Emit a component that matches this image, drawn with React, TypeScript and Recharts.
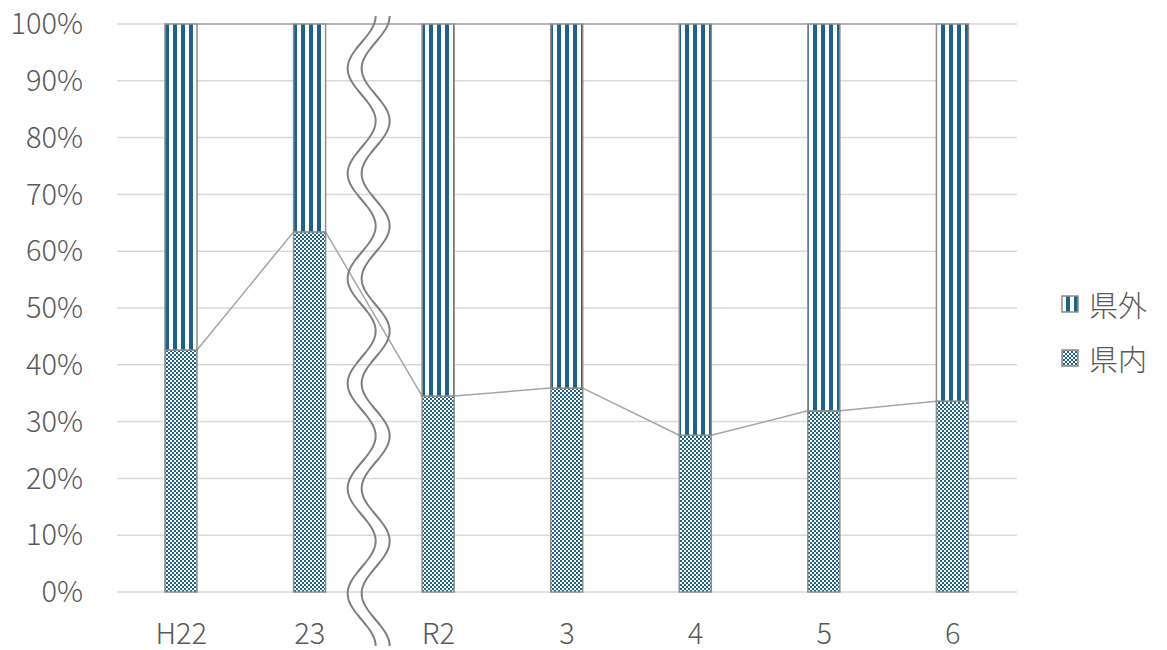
import React from 'react';
import { BarChart, Bar, XAxis, YAxis, CartesianGrid } from 'recharts';

const categories = ['H22', '23', 'R2', '3', '4', '5', '6'];
const inPref = [42.6, 63.4, 34.5, 35.9, 27.6, 31.9, 33.6];
const outPref = [57.4, 36.6, 65.5, 64.1, 72.4, 68.1, 66.4];
const yTicks = [0, 10, 20, 30, 40, 50, 60, 70, 80, 90, 100];
const seriesNames = { inner: '県内', outer: '県外' };

const data = categories.map((name, i) => ({ name, inner: inPref[i], outer: outPref[i] }));

const W = 1167;
const H = 650;
const X_H = 58;
const M = { top: 24, right: 150, bottom: 58 - X_H, left: 0 };
const Y_W = 117;
const PLOT_W = W - M.right - M.left - Y_W;
const STEP = PLOT_W / categories.length;

const BLUE = '#1d6388';
const TEXT = '#595959';
const FONT = '"Noto Sans CJK JP", "Noto Sans", sans-serif';

// bar + excel-style series line to the next bar
const makeShape = (key: 'inner' | 'outer', fill: string) => (props: any) => {
  const { x, y, width, height, index, payload } = props;
  const pxPer = height / payload[key];
  const base = y + height + (key === 'outer' ? payload.inner * pxPer : 0);
  const cum = (d: any) => (key === 'outer' ? d.inner + d.outer : d.inner);
  const next = data[index + 1];
  return (
    <g>
      {next && (
        <line
          x1={x + width}
          y1={y}
          x2={x + STEP}
          y2={base - cum(next) * pxPer}
          stroke="#a5a5a5"
          strokeWidth={1.5}
        />
      )}
      <rect x={x} y={y} width={width} height={height} fill={fill} stroke="#8c8c8c" strokeWidth={1.5} />
    </g>
  );
};

function wavePath(cx: number, y0: number, y1: number) {
  const period = (y1 - y0) / 6;
  const amp = 14;
  let d = '';
  for (let y = y0; y <= y1; y += 2) {
    const xx = cx + amp * Math.cos(((y - y0) / period) * Math.PI * 2);
    d += (d ? 'L' : 'M') + xx.toFixed(2) + ',' + y.toFixed(2);
  }
  return d;
}

function Swatch({ fill }: { fill: string }) {
  return (
    <svg width={18} height={18} style={{ display: 'block' }}>
      <rect x={1} y={1} width={16} height={16} fill={fill} stroke="#8c8c8c" strokeWidth={1.5} />
    </svg>
  );
}

export default function App() {
  const breakX = M.left + Y_W + 2 * STEP;
  const tick = { fill: TEXT, fontSize: 29, fontFamily: FONT, fontWeight: 300 };
  return (
    <div style={{ position: 'absolute', left: 0, top: 0, width: W, height: H, background: '#fff', fontFamily: FONT }}>
      <svg width={0} height={0} style={{ position: 'absolute' }}>
        <defs>
          <pattern id="stripes" x={3} width={8} height={8} patternUnits="userSpaceOnUse">
            <rect x={0} y={0} width={8} height={8} fill="#fff" />
            <rect x={2} y={0} width={4} height={8} fill={BLUE} />
          </pattern>
          <pattern id="checker" width={4} height={4} patternUnits="userSpaceOnUse">
            <rect x={0} y={0} width={4} height={4} fill="#fff" />
            <rect x={0} y={0} width={2} height={2} fill={BLUE} />
            <rect x={2} y={2} width={2} height={2} fill={BLUE} />
          </pattern>
        </defs>
      </svg>
      <BarChart width={W} height={H} data={data} margin={M} barSize={32}>
        <CartesianGrid vertical={false} stroke="#d9d9d9" strokeWidth={1.5} />
        <XAxis
          dataKey="name"
          height={X_H}
          axisLine={false}
          tickLine={false}
          tickSize={0}
          tickMargin={31}
          tick={tick}
        />
        <YAxis
          width={Y_W}
          domain={[0, 100]}
          ticks={yTicks}
          tickFormatter={(v: number) => `${v}%`}
          axisLine={false}
          tickLine={false}
          tickSize={0}
          tickMargin={34}
          tick={tick}
        />
        <Bar dataKey="inner" stackId="a" isAnimationActive={false} shape={makeShape('inner', 'url(#checker)')} />
        <Bar dataKey="outer" stackId="a" isAnimationActive={false} shape={makeShape('outer', 'url(#stripes)')} />
      </BarChart>
      <svg width={W} height={H} style={{ position: 'absolute', left: 0, top: 0, pointerEvents: 'none' }}>
        <path d={wavePath(breakX - 12.5, 16, 646)} fill="none" stroke="#7f7f7f" strokeWidth={2} />
        <path d={wavePath(breakX + 1.5, 16, 646)} fill="none" stroke="#7f7f7f" strokeWidth={2} />
      </svg>
      <div style={{ position: 'absolute', left: 1061, top: 284, color: TEXT, fontSize: 29, fontWeight: 300 }}>
        <div style={{ display: 'flex', alignItems: 'center', height: 40, gap: 10 }}>
          <Swatch fill="url(#stripes)" />
          <span>{seriesNames.outer}</span>
        </div>
        <div style={{ display: 'flex', alignItems: 'center', height: 40, marginTop: 14, gap: 10 }}>
          <Swatch fill="url(#checker)" />
          <span>{seriesNames.inner}</span>
        </div>
      </div>
    </div>
  );
}
